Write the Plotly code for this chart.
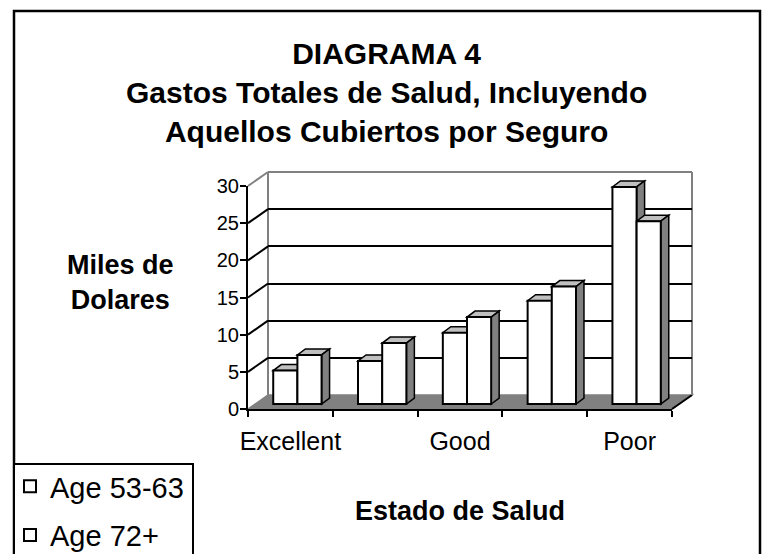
import plotly.graph_objects as go

# ---------------- data ----------------
categories = ["Excellent", "Very good", "Good", "Fair", "Poor"]
tick_labels = ["Excellent", "", "Good", "", "Poor"]
series_names = ["Age 53-63", "Age 72+"]
age_53_63 = [4.5, 5.8, 9.6, 13.9, 29.2]
age_72 = [6.6, 8.2, 11.7, 15.8, 24.6]
y_ticks = [0, 5, 10, 15, 20, 25, 30]

# ---------------- geometry (pixels) ----------------
W, H = 767, 554
FONT = "Liberation Sans, Arial, sans-serif"
FX0, FX1 = 248, 672          # front plane x extent
FY0, FY30 = 409, 186         # front plane pixel of 0 and 30
PPX = (FX1 - FX0) / len(categories)
PPY = (FY0 - FY30) / 30.0
BAR_SHIFT = (7, 5)           # bar plane offset (right, up)
BACK_SHIFT = (20, 14)        # back wall offset (right, up)
DEPTH = (8, 6)               # depth of a bar (right, up)
BAR_W = 0.285
OFFSETS = [-BAR_W, 0.0]


def fx(px):
    return px / W


def fy(py):
    return 1 - py / H


def plane_domains(shift, ylo, yhi):
    dx, dy = shift
    xd = [fx(FX0 + dx), fx(FX1 + dx)]
    p_lo = FY0 - dy - ylo * PPY
    p_hi = FY0 - dy - yhi * PPY
    return xd, [fy(p_lo), fy(p_hi)]


def front_px(v):
    return FY0 - v * PPY


fig = go.Figure()

xs = list(range(len(categories)))
# invisible anchors so the back-wall and front-axis subplots get drawn
fig.add_trace(go.Scatter(x=xs, y=age_53_63, mode="markers", marker=dict(opacity=0),
                         xaxis="x", yaxis="y", showlegend=False, hoverinfo="skip"))

# bars (front faces) on the bar plane
values = [age_53_63, age_72]
for s, name in enumerate(series_names):
    fig.add_trace(go.Bar(
        x=xs, y=values[s], name=name,
        width=BAR_W, offset=OFFSETS[s],
        marker=dict(color="white", line=dict(color="black", width=2)),
        xaxis="x2", yaxis="y2", cliponaxis=False,
        hovertext=categories, showlegend=True, legendgroup=f"g{s}",
    ))

fig.add_trace(go.Scatter(x=xs, y=age_72, mode="markers", marker=dict(opacity=0),
                         xaxis="x3", yaxis="y3", showlegend=False, hoverinfo="skip"))

shapes = []
# floor, walls (paper coords derived from the planes)
bx, by = BACK_SHIFT
floor = [(FX0, FY0), (FX1, FY0), (FX1 + bx, FY0 - by), (FX0 + bx, FY0 - by)]
path = "M " + " L ".join(f"{fx(a)},{fy(b)}" for a, b in floor) + " Z"
shapes.append(dict(type="path", xref="paper", yref="paper", path=path,
                   fillcolor="#808080", line=dict(color="#808080", width=1.5),
                   layer="below"))
# floor right edge
shapes.append(dict(type="line", xref="paper", yref="paper",
                   x0=fx(FX1), y0=fy(FY0), x1=fx(FX1 + bx), y1=fy(FY0 - by),
                   line=dict(color="black", width=2), layer="below"))
# back wall gray border
top_back = front_px(30) - by
bot_back = FY0 - by
for (a0, b0, a1, b1) in [
    (FX0 + bx, bot_back, FX0 + bx, top_back),
    (FX0 + bx, top_back, FX1 + bx, top_back),
    (FX1 + bx, top_back, FX1 + bx, bot_back),
    (FX0, front_px(30), FX0 + bx, top_back),
]:
    shapes.append(dict(type="line", xref="paper", yref="paper",
                       x0=fx(a0), y0=fy(b0), x1=fx(a1), y1=fy(b1),
                       line=dict(color="#808080", width=2), layer="below"))
# side wall grid lines
for v in y_ticks[1:-1]:
    shapes.append(dict(type="line", xref="paper", yref="paper",
                       x0=fx(FX0), y0=fy(front_px(v)),
                       x1=fx(FX0 + bx), y1=fy(front_px(v) - by),
                       line=dict(color="black", width=2), layer="below"))

# 3D faces of bars (top & side), drawn under bar fronts in the bar plane
ddx = DEPTH[0] / PPX
ddy = DEPTH[1] / PPY
for i in range(len(categories)):
    for s in range(len(series_names)):
        v = values[s][i]
        L = i + OFFSETS[s]
        R = L + BAR_W
        top = f"M {L},{v} L {R},{v} L {R+ddx},{v+ddy} L {L+ddx},{v+ddy} Z"
        side = f"M {R},0 L {R},{v} L {R+ddx},{v+ddy} L {R+ddx},{ddy} Z"
        shapes.append(dict(type="path", xref="x2", yref="y2", path=top,
                           fillcolor="#C0C0C0", line=dict(color="black", width=1.5),
                           layer="below"))
        shapes.append(dict(type="path", xref="x2", yref="y2", path=side,
                           fillcolor="#808080", line=dict(color="black", width=1.5),
                           layer="below"))

# outer border and legend box
shapes.append(dict(type="rect", xref="paper", yref="paper",
                   x0=fx(14), x1=fx(760), y0=-0.1, y1=fy(11),
                   line=dict(color="black", width=2.5), layer="above"))
shapes.append(dict(type="rect", xref="paper", yref="paper",
                   x0=fx(14), x1=fx(193), y0=-0.1, y1=fy(464),
                   line=dict(color="black", width=2), fillcolor="white",
                   layer="above"))

xd1, yd1 = plane_domains(BACK_SHIFT, 0, 30)
xd2, yd2 = plane_domains(BAR_SHIFT, -1, 32)
xd3, yd3 = plane_domains((0, 0), 0, 30)
xrange = [-0.5, len(categories) - 0.5]

fig.update_layout(
    width=W, height=H,
    margin=dict(l=0, r=0, t=0, b=0, autoexpand=False),
    paper_bgcolor="white", plot_bgcolor="rgba(0,0,0,0)",
    font=dict(family=FONT, color="black"),
    shapes=shapes,
    hovermode=False,
    # back wall
    xaxis=dict(domain=xd1, range=xrange, visible=False, anchor="y"),
    yaxis=dict(domain=yd1, range=[0, 30], anchor="x", tickvals=y_ticks[1:-1],
               showgrid=True, gridcolor="black", gridwidth=2,
               showticklabels=False, ticks="", zeroline=False, showline=False),
    # bar plane
    xaxis2=dict(domain=xd2, range=xrange, visible=False, anchor="y2"),
    yaxis2=dict(domain=yd2, range=[-1, 32], visible=False, anchor="x2"),
    # front axes
    xaxis3=dict(domain=xd3, range=xrange, anchor="y3",
                tickmode="array", tickvals=xs,
                ticktext=tick_labels, ticks="", tickfont=dict(size=25),
                ticklabelstandoff=9,
                showline=True, linecolor="black", linewidth=2,
                showgrid=False, zeroline=False,
                minor=dict(tickmode="array",
                           tickvals=[k - 0.5 for k in range(len(categories) + 1)],
                           ticks="outside", ticklen=6, tickwidth=2,
                           tickcolor="black", showgrid=False)),
    yaxis3=dict(domain=yd3, range=[0, 30], anchor="x3",
                tickvals=y_ticks, ticks="outside", ticklen=6, tickwidth=2,
                tickcolor="black", tickfont=dict(size=20),
                ticklabelstandoff=-3,
                showline=True, linecolor="black", linewidth=2,
                showgrid=False, zeroline=False),
    barmode="overlay",
    legend=dict(x=fx(10), y=fy(461), xanchor="left", yanchor="top",
                bgcolor="rgba(0,0,0,0)", borderwidth=0, tracegroupgap=8,
                font=dict(size=29, family=FONT), traceorder="grouped"),
    annotations=[
        dict(text="<b>DIAGRAMA 4<br>Gastos Totales de Salud, Incluyendo<br>"
                  "Aquellos Cubiertos por Seguro</b>",
             xref="paper", yref="paper", x=fx(387), y=fy(92),
             xanchor="center", yanchor="middle", showarrow=False,
             font=dict(size=30, family=FONT)),
        dict(text="<b>Miles de<br>Dolares</b>",
             xref="paper", yref="paper", x=fx(120), y=fy(282),
             xanchor="center", yanchor="middle", showarrow=False,
             font=dict(size=27, family=FONT)),
        dict(text="<b>Estado de Salud</b>",
             xref="paper", yref="paper", x=fx(460), y=fy(511),
             xanchor="center", yanchor="middle", showarrow=False,
             font=dict(size=27, family=FONT)),
    ],
)

fig.write_html("out.html", config={"displayModeBar": False},
               post_script="document.body.style.margin='0';"
                           "document.body.style.overflow='hidden';")
